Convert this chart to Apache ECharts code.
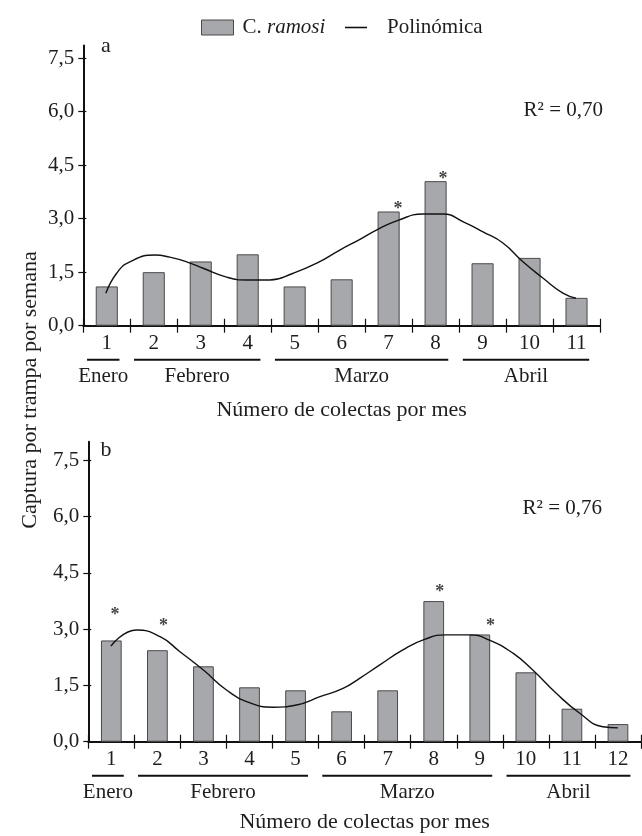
<!DOCTYPE html>
<html><head><meta charset="utf-8">
<script src="https://cdn.jsdelivr.net/npm/echarts@6/dist/echarts.min.js"></script>
<style>html,body{margin:0;padding:0;background:#fff}#c{width:642px;height:836px}</style>
</head><body><div id="c"></div>
<script>
// ---------- data ----------
const categoriesA = ['1','2','3','4','5','6','7','8','9','10','11'];
const valuesA = [1.1, 1.5, 1.8, 2.0, 1.1, 1.3, 3.2, 4.05, 1.75, 1.9, 0.78];
const curveA = [[0.98,0.91],[1.21,1.47],[1.49,1.79],[2.03,1.98],[2.34,1.92],[2.70,1.79],[3.05,1.61],[3.55,1.36],[3.98,1.28],[4.47,1.28],[4.97,1.47],[5.47,1.75],[5.96,2.12],[6.39,2.42],[6.74,2.68],[7.2,2.95],[7.73,3.13],[8.16,3.13],[8.59,2.91],[9.01,2.63],[9.44,2.31],[9.86,1.79],[10.29,1.33],[10.71,0.91],[10.99,0.77]];
const starsA = [[7.2,3.36],[8.16,4.22]];
const monthsA = ['Enero','Febrero','Marzo','Abril'];
const monthStartA = [1,2,5,9];
const monthEndA = [1,4,8,11];
const r2A = 'R² = 0,70';

const categoriesB = ['1','2','3','4','5','6','7','8','9','10','11','12'];
const valuesB = [2.7, 2.44, 2.01, 1.45, 1.37, 0.81, 1.37, 3.75, 2.86, 1.85, 0.88, 0.47];
const curveB = [[0.99,2.55],[1.55,2.98],[2.06,2.80],[2.49,2.40],[3.0,1.91],[3.5,1.38],[4.0,1.04],[4.51,0.92],[5.02,0.98],[5.53,1.20],[6.03,1.42],[6.39,1.69],[6.83,2.05],[7.33,2.45],[7.80,2.73],[8.27,2.85],[8.78,2.85],[9.21,2.71],[9.72,2.36],[10.15,1.91],[10.66,1.29],[11.17,0.76],[11.67,0.40],[12.0,0.37]];
const starsB = [[1.08,3.47],[2.13,3.17],[8.13,4.09],[9.23,3.17]];
const monthsB = ['Enero','Febrero','Marzo','Abril'];
const monthStartB = [1,2,6,10];
const monthEndB = [1,5,9,12];
const r2B = 'R² = 0,76';

const yTicks = [0, 1.5, 3, 4.5, 6, 7.5];
const seriesNames = ['C. ramosi', 'Polinómica'];
const yTitle = 'Captura por trampa por semana';
const xTitle = 'Número de colectas por mes';

// ---------- chart ----------
const chart = echarts.init(document.getElementById('c'), null, {renderer:'canvas'});
const FONT = '"Liberation Serif","Times New Roman",serif';
const TXT = '#1e1e1e';
const fmt = v => Number(v).toFixed(1).replace('.', ',');

function catAxis(grid, cats, inside) {
  return {
    type:'category', gridIndex:grid, data:cats, position:'bottom', boundaryGap:true,
    axisLine:{show:!inside, lineStyle:{color:'#111', width:2}},
    axisTick:{show:true, inside:inside, length:7, interval:0, lineStyle:{color:'#111', width:1.2}},
    axisLabel:{show:!inside, interval:0, margin:7, fontFamily:FONT, fontSize:21, color:TXT},
    splitLine:{show:false}
  };
}
function valXAxis(grid, n) {
  return {type:'value', gridIndex:grid, min:0.5, max:n+0.5, show:false};
}
function yAx(grid, max, inside) {
  return {
    type:'value', gridIndex:grid, position:'left', min:0, max:max, interval:1.5,
    axisLine:{show:!inside, lineStyle:{color:'#111', width:2}},
    axisTick:{show:true, inside:inside, length:inside?3:5, customValues:yTicks, lineStyle:{color:'#111', width:1.2}},
    axisLabel:{show:!inside, customValues:yTicks, formatter:fmt, margin:9, fontFamily:FONT, fontSize:21, color:TXT},
    splitLine:{show:false}
  };
}
const barStyle = {color:'#a7a8ac', borderColor:'#4a4a4a', borderWidth:1};
const lineStyle = {color:'#111', width:1.4};
function starSeries(xi, yi, data) {
  return {
    type:'scatter', xAxisIndex:xi, yAxisIndex:yi, data:data, symbolSize:0.1,
    itemStyle:{color:'rgba(0,0,0,0)'}, silent:true,
    label:{show:true, formatter:'*', position:'inside', fontFamily:FONT, fontSize:18, fontWeight:'bold', color:'#111', offset:[0,4]}
  };
}

const option = {
  animation:false,
  backgroundColor:'#fff',
  grid:[
    {left:83.3, top:45.5, width:516.7, height:280.2},
    {left:88.3, top:441.7, width:552.7, height:300}
  ],
  legend:[
    {data:[{name:seriesNames[0], icon:'rect'}], left:201, top:17, padding:0, itemWidth:32, itemHeight:15,
     itemStyle:{color:'#a7a8ac', borderColor:'#4a4a4a', borderWidth:1},
     formatter: () => 'C. {i|ramosi}',
     textStyle:{fontFamily:FONT, fontSize:21, color:TXT, padding:[0,0,0,4],
       rich:{i:{fontFamily:FONT, fontSize:21, color:TXT, fontStyle:'italic'}}}},
    {data:[{name:seriesNames[1], icon:'rect'}], left:345, top:17, padding:0, itemWidth:22, itemHeight:1.6,
     itemStyle:{color:'#111', borderWidth:0},
     textStyle:{fontFamily:FONT, fontSize:21, color:TXT, padding:[0,0,0,15]}}
  ],
  xAxis:[
    catAxis(0, categoriesA, false), catAxis(0, categoriesA, true), valXAxis(0, categoriesA.length),
    catAxis(1, categoriesB, false), catAxis(1, categoriesB, true), valXAxis(1, categoriesB.length)
  ],
  yAxis:[
    yAx(0, 7.85, false), yAx(0, 7.85, true),
    yAx(1, 8.0, false), yAx(1, 8.0, true)
  ],
  series:[
    {name:seriesNames[0], type:'bar', xAxisIndex:0, yAxisIndex:0, data:valuesA, barWidth:'47%', itemStyle:barStyle},
    {name:seriesNames[1], type:'line', xAxisIndex:2, yAxisIndex:0, data:curveA, smooth:true, symbol:'none', lineStyle:lineStyle, itemStyle:{color:'#111'}},
    starSeries(2, 0, starsA),
    {name:seriesNames[0], type:'bar', xAxisIndex:3, yAxisIndex:2, data:valuesB, barWidth:'45%', itemStyle:barStyle},
    {name:seriesNames[1], type:'line', xAxisIndex:5, yAxisIndex:2, data:curveB, smooth:true, symbol:'none', lineStyle:lineStyle, itemStyle:{color:'#111'}},
    starSeries(5, 2, starsB)
  ]
};
chart.setOption(option);

// ---------- annotations ----------
function monthGraphics(xi, yi, names, starts, ends) {
  const y0 = chart.convertToPixel({yAxisIndex:yi}, 0);
  const out = [];
  names.forEach((nm, i) => {
    const x1 = chart.convertToPixel({xAxisIndex:xi}, starts[i] - 0.42);
    const x2 = chart.convertToPixel({xAxisIndex:xi}, ends[i] + 0.27);
    out.push({type:'line', shape:{x1:x1, y1:y0+34, x2:x2, y2:y0+34}, style:{stroke:'#111', lineWidth:2}});
    out.push({type:'text', x:(x1+x2)/2, y:y0+51, style:{text:nm, font:'21px '+FONT, fill:TXT, align:'center', verticalAlign:'middle'}});
  });
  return out;
}
function gridCenterX(xi, n) {
  return (chart.convertToPixel({xAxisIndex:xi}, 0.5) + chart.convertToPixel({xAxisIndex:xi}, n+0.5)) / 2;
}
const yA0 = chart.convertToPixel({yAxisIndex:0}, 0);
const yB0 = chart.convertToPixel({yAxisIndex:2}, 0);
const graphics = [].concat(
  monthGraphics(2, 0, monthsA, monthStartA, monthEndA),
  monthGraphics(5, 2, monthsB, monthStartB, monthEndB),
  [
    {type:'text', x:gridCenterX(2, categoriesA.length), y:yA0+85, style:{text:xTitle, font:'22px '+FONT, fill:TXT, align:'center', verticalAlign:'middle'}},
    {type:'text', x:gridCenterX(5, categoriesB.length), y:yB0+81, style:{text:xTitle, font:'22px '+FONT, fill:TXT, align:'center', verticalAlign:'middle'}},
    {type:'text', x:30, y:390, rotation:Math.PI/2, style:{text:yTitle, font:'22px '+FONT, fill:TXT, align:'center', verticalAlign:'middle'}},
    {type:'text', x:106, y:46, style:{text:'a', font:'22px '+FONT, fill:TXT, align:'center', verticalAlign:'middle'}},
    {type:'text', x:106, y:450, style:{text:'b', font:'22px '+FONT, fill:TXT, align:'center', verticalAlign:'middle'}},
    {type:'text', x:603, y:110, style:{text:r2A, font:'21px '+FONT, fill:TXT, align:'right', verticalAlign:'middle'}},
    {type:'text', x:602, y:508, style:{text:r2B, font:'21px '+FONT, fill:TXT, align:'right', verticalAlign:'middle'}}
  ]
);
chart.setOption({graphic: graphics});
</script>
</body></html>
